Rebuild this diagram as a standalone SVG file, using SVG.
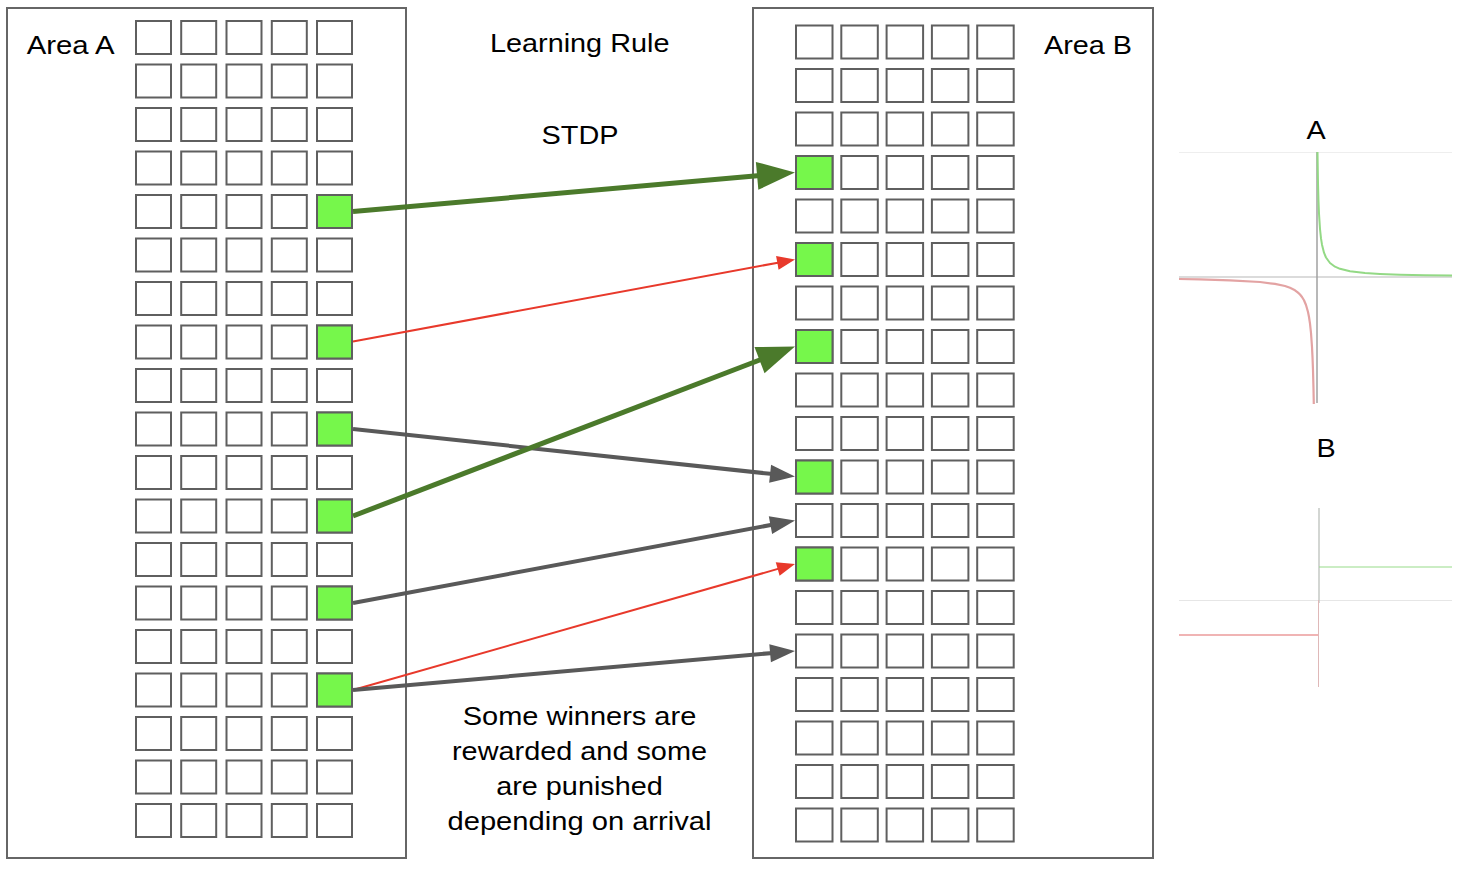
<svg xmlns="http://www.w3.org/2000/svg" xmlns:xlink="http://www.w3.org/1999/xlink" width="1458" height="872" viewBox="0 0 1458 872">
<style>
.box{fill:#fff;stroke:#666;stroke-width:2}
.cell{fill:#fff;stroke:#5f5f5f;stroke-width:2}
.win{fill:#76f74b;stroke:#5f5f5f;stroke-width:2}
.t{font-family:"Liberation Sans",Arial,sans-serif;font-size:26px;fill:#000}
.c{text-anchor:middle}
.ag{fill:none;stroke:#4b7a2b;stroke-width:5}
.ar{fill:none;stroke:#e8392b;stroke-width:2}
.ak{fill:none;stroke:#595959;stroke-width:4}
</style>
<defs>
<marker id="hg" markerUnits="userSpaceOnUse" orient="auto" markerWidth="40" markerHeight="30" refX="3" refY="14" overflow="visible"><path d="M0,0 L38,14 L0,28 z" fill="#4b7a2b"/></marker>
<marker id="hr" markerUnits="userSpaceOnUse" orient="auto" markerWidth="20" markerHeight="16" refX="2" refY="7" overflow="visible"><path d="M0,0 L18,7 L0,14 z" fill="#e8392b"/></marker>
<marker id="hk" markerUnits="userSpaceOnUse" orient="auto" markerWidth="28" markerHeight="20" refX="3" refY="9" overflow="visible"><path d="M0,0 L25,9 L0,18 z" fill="#595959"/></marker>
<g id="rowA"><rect class="cell" x="136" y="0" width="35" height="33"/><rect class="cell" x="181.2" y="0" width="35" height="33"/><rect class="cell" x="226.5" y="0" width="35" height="33"/><rect class="cell" x="271.8" y="0" width="35" height="33"/><rect class="cell" x="317" y="0" width="35" height="33"/></g>
<g id="rowB"><rect class="cell" x="796" y="0" width="36.5" height="33"/><rect class="cell" x="841.3" y="0" width="36.5" height="33"/><rect class="cell" x="886.6" y="0" width="36.5" height="33"/><rect class="cell" x="931.9" y="0" width="36.5" height="33"/><rect class="cell" x="977.2" y="0" width="36.5" height="33"/></g>
</defs>
<rect width="1458" height="872" fill="#fff"/>

<g id="area-a">
<rect class="box" x="7" y="8" width="399" height="850"/>
<text class="t" x="26.7" y="54.3" textLength="88" lengthAdjust="spacingAndGlyphs">Area A</text>
<use href="#rowA" y="21"/><use href="#rowA" y="64.5"/><use href="#rowA" y="108"/><use href="#rowA" y="151.5"/><use href="#rowA" y="195"/><use href="#rowA" y="238.5"/><use href="#rowA" y="282"/><use href="#rowA" y="325.5"/><use href="#rowA" y="369"/><use href="#rowA" y="412.5"/><use href="#rowA" y="456"/><use href="#rowA" y="499.5"/><use href="#rowA" y="543"/><use href="#rowA" y="586.5"/><use href="#rowA" y="630"/><use href="#rowA" y="673.5"/><use href="#rowA" y="717"/><use href="#rowA" y="760.5"/><use href="#rowA" y="804"/>
<rect class="win" x="317" y="195" width="35" height="33"/>
<rect class="win" x="317" y="325.5" width="35" height="33"/>
<rect class="win" x="317" y="412.5" width="35" height="33"/>
<rect class="win" x="317" y="499.5" width="35" height="33"/>
<rect class="win" x="317" y="586.5" width="35" height="33"/>
<rect class="win" x="317" y="673.5" width="35" height="33"/>
</g>

<g id="area-b">
<rect class="box" x="753" y="8" width="400" height="850"/>
<text class="t" x="1044" y="54.3" textLength="88" lengthAdjust="spacingAndGlyphs">Area B</text>
<use href="#rowB" y="25.5"/><use href="#rowB" y="69"/><use href="#rowB" y="112.5"/><use href="#rowB" y="156"/><use href="#rowB" y="199.5"/><use href="#rowB" y="243"/><use href="#rowB" y="286.5"/><use href="#rowB" y="330"/><use href="#rowB" y="373.5"/><use href="#rowB" y="417"/><use href="#rowB" y="460.5"/><use href="#rowB" y="504"/><use href="#rowB" y="547.5"/><use href="#rowB" y="591"/><use href="#rowB" y="634.5"/><use href="#rowB" y="678"/><use href="#rowB" y="721.5"/><use href="#rowB" y="765"/><use href="#rowB" y="808.5"/>
<rect class="win" x="796" y="156" width="36.5" height="33"/>
<rect class="win" x="796" y="243" width="36.5" height="33"/>
<rect class="win" x="796" y="330" width="36.5" height="33"/>
<rect class="win" x="796" y="460.5" width="36.5" height="33"/>
<rect class="win" x="796" y="547.5" width="36.5" height="33"/>
</g>

<g id="labels">
<text class="t c" x="579.7" y="51.7" textLength="179.4" lengthAdjust="spacingAndGlyphs">Learning Rule</text>
<text class="t c" x="580" y="144.3" textLength="77" lengthAdjust="spacingAndGlyphs">STDP</text>
<text class="t c" x="579.5" y="725" textLength="233.5" lengthAdjust="spacingAndGlyphs">Some winners are</text>
<text class="t c" x="579.5" y="759.5" textLength="255" lengthAdjust="spacingAndGlyphs">rewarded and some</text>
<text class="t c" x="579.5" y="794.5" textLength="166.7" lengthAdjust="spacingAndGlyphs">are punished</text>
<text class="t c" x="579.5" y="829.5" textLength="264" lengthAdjust="spacingAndGlyphs">depending on arrival</text>
</g>

<g id="connectors">
<line class="ar" x1="353" y1="341.5" x2="779.3" y2="262.4" marker-end="url(#hr)"/>
<line class="ak" x1="353" y1="429" x2="773.1" y2="474.1" marker-end="url(#hk)"/>
<line class="ak" x1="353" y1="603" x2="773.4" y2="524.5" marker-end="url(#hk)"/>
<line class="ar" x1="353" y1="690" x2="779.6" y2="568.4" marker-end="url(#hr)"/>
<line class="ak" x1="353" y1="690" x2="773.1" y2="652.9" marker-end="url(#hk)"/>
<line class="ag" x1="353" y1="211.5" x2="760.1" y2="175.6" marker-end="url(#hg)"/>
<line class="ag" x1="353" y1="516" x2="762.3" y2="359" marker-end="url(#hg)"/>
</g>

<g id="plot-a">
<text class="t c" x="1316" y="139" textLength="19.2" lengthAdjust="spacingAndGlyphs">A</text>
<line x1="1179" y1="152.5" x2="1452" y2="152.5" stroke="#eeeeee" stroke-width="1"/>
<line x1="1179" y1="277" x2="1452" y2="277" stroke="#cfcfcf" stroke-width="1.5"/>
<line x1="1317" y1="152" x2="1317" y2="403" stroke="#a0a0a0" stroke-width="1.5"/>
<path d="M1317.5,152 L1318,183.2 L1318.5,201.2 L1319,213.5 L1320,229 L1321,238.4 L1322,244.7 L1324,252.7 L1326,257.5 L1330,263 L1335,266.7 L1340,268.8 L1350,271.2 L1365,273 L1380,273.9 L1400,274.7 L1425,275.2 L1452,275.6" fill="none" stroke="#93d985" stroke-width="2" stroke-linejoin="round"/>
<path d="M1179,279 L1200,279.4 L1230,280.3 L1260,282 L1275,283.9 L1285,286 L1290,287.8 L1295,290.3 L1298,292.6 L1300,294.5 L1302,297 L1304,300.3 L1306,305 L1308,312 L1309,317 L1310,323.7 L1311,333 L1312,347 L1312.5,357 L1313,370.3 L1313.5,389 L1313.8,404" fill="none" stroke="#e3a3a3" stroke-width="2.2" stroke-linejoin="round"/>
</g>

<g id="plot-b">
<text class="t c" x="1326" y="457.3" textLength="19.2" lengthAdjust="spacingAndGlyphs">B</text>
<line x1="1179" y1="600.5" x2="1452" y2="600.5" stroke="#e6e6e6" stroke-width="1"/>
<line x1="1319" y1="508" x2="1319" y2="603" stroke="#c4c8c4" stroke-width="1.5"/>
<line x1="1319" y1="567" x2="1452" y2="567" stroke="#97db8a" stroke-width="1.2"/>
<line x1="1179" y1="635" x2="1318.5" y2="635" stroke="#f0b4b4" stroke-width="2"/>
<line x1="1318.5" y1="600" x2="1318.5" y2="687" stroke="#dfb8b8" stroke-width="1"/>
</g>
</svg>
